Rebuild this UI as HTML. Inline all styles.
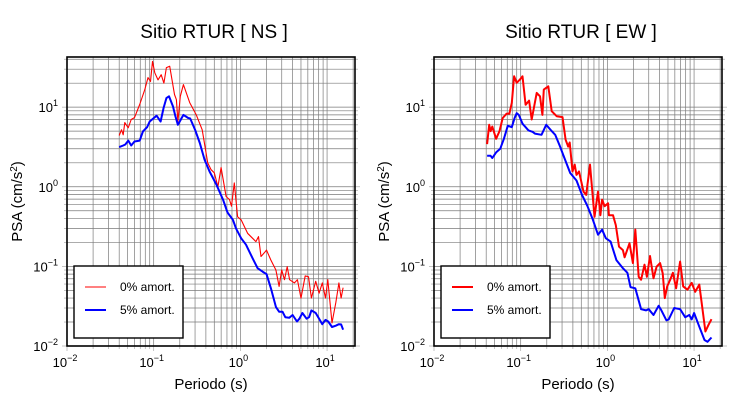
<!DOCTYPE html>
<html><head><meta charset="utf-8">
<style>
body{margin:0;background:#fff;}
svg{display:block;font-family:"Liberation Sans",sans-serif;}
</style></head>
<body>
<svg id="c" width="730" height="400" viewBox="0 0 730 400"></svg>
<script>
// ---- data (periods in s, PSA in cm/s^2) ----
const nsRedPeriods=[0.040,0.0425,0.0445,0.0464,0.0508,0.055,0.060,0.069,0.079,0.086,0.092,0.097,0.103,0.112,0.122,0.131,0.140,0.153,0.174,0.183,0.19,0.203,0.22,0.26,0.31,0.363,0.42,0.46,0.50,0.55,0.60,0.685,0.75,0.79,0.85,0.93,1.02,1.21,1.51,1.62,1.73,1.89,2.0,2.25,2.57,2.8,3.0,3.23,3.47,3.7,4.2,4.55,5.0,5.6,6.1,6.6,7.4,8.1,8.8,9.6,10.2,11.4,12.6,13.7,14.5,15.3];
const nsRedValues=[4.4,5.2,4.5,6.4,5.5,7.0,7.4,10.8,16.6,23.5,21,37.6,27,22,25.6,20,31.4,32.7,14.4,12.4,6.6,13.7,19.2,11.4,8.0,5.2,2.0,1.64,1.5,1.0,1.74,0.755,0.69,0.57,1.12,0.42,0.385,0.26,0.205,0.237,0.133,0.148,0.16,0.12,0.09,0.056,0.09,0.068,0.099,0.068,0.062,0.068,0.040,0.076,0.074,0.040,0.065,0.046,0.062,0.040,0.068,0.0195,0.035,0.062,0.040,0.054];
const nsBluePeriods=[0.040,0.0445,0.047,0.051,0.055,0.060,0.069,0.075,0.084,0.090,0.108,0.12,0.13,0.14,0.15,0.167,0.178,0.19,0.203,0.22,0.25,0.264,0.30,0.34,0.386,0.44,0.53,0.63,0.71,0.82,0.89,1.02,1.16,1.38,1.58,1.8,2.0,2.25,2.57,2.8,3.06,3.3,3.66,4.0,4.5,4.8,5.2,5.8,6.2,6.6,7.4,8.1,8.8,9.6,10.3,11.4,12.6,13.7,14.5,15.3];
const nsBlueValues=[3.15,3.3,3.4,3.8,3.3,3.7,3.8,4.95,5.6,6.6,7.8,6.6,9.8,13.0,13.7,10.2,7.7,6.0,6.8,8.0,7.3,7.2,5.2,3.55,2.2,1.56,1.06,0.69,0.475,0.385,0.30,0.226,0.187,0.127,0.095,0.086,0.08,0.053,0.031,0.027,0.027,0.023,0.0226,0.0245,0.0203,0.022,0.026,0.022,0.023,0.028,0.026,0.022,0.0188,0.0213,0.0203,0.0173,0.018,0.0188,0.0187,0.016];
const ewRedPeriods=[0.041,0.0433,0.045,0.047,0.052,0.057,0.062,0.069,0.074,0.079,0.084,0.090,0.098,0.105,0.114,0.125,0.134,0.153,0.167,0.178,0.185,0.208,0.228,0.26,0.304,0.33,0.353,0.368,0.396,0.42,0.44,0.47,0.53,0.57,0.63,0.71,0.78,0.83,0.87,0.93,1.02,1.04,1.16,1.25,1.36,1.51,1.58,1.8,1.97,2.1,2.3,2.45,2.68,2.86,3.1,3.4,3.7,4.06,4.35,4.6,4.9,5.3,5.7,6.2,6.9,7.5,8.4,9.4,10.3,11.5,13.5,14.7,15.9];
const ewRedValues=[3.44,6.0,5.0,5.7,4.0,5.0,7.3,8.3,8.3,11.3,24.4,20.2,22.2,24.4,10.7,12.1,7.0,15.1,13.7,8.0,16.6,18.3,8.9,7.7,7.5,3.9,3.2,3.6,1.56,1.9,1.41,1.56,0.87,0.79,1.9,0.42,0.87,0.44,0.69,0.57,0.62,0.44,0.44,0.33,0.177,0.16,0.13,0.195,0.11,0.29,0.074,0.068,0.105,0.074,0.135,0.071,0.099,0.11,0.082,0.040,0.056,0.068,0.083,0.053,0.115,0.056,0.051,0.062,0.048,0.059,0.0152,0.0185,0.0217];
const ewBluePeriods=[0.041,0.045,0.047,0.052,0.058,0.064,0.071,0.079,0.085,0.09,0.095,0.105,0.123,0.137,0.146,0.174,0.197,0.228,0.25,0.285,0.31,0.373,0.44,0.51,0.59,0.68,0.78,0.87,0.96,1.09,1.27,1.51,1.7,1.85,2.1,2.45,2.8,3.0,3.4,3.9,4.2,4.8,5.1,5.9,6.9,7.9,8.8,9.4,10.0,11.5,13.2,14.3,15.9];
const ewBlueValues=[2.45,2.45,2.3,2.7,3.0,4.0,5.85,5.6,7.3,8.4,8.0,6.2,5.1,4.9,4.65,4.5,6.0,5.0,4.5,3.2,2.5,1.49,1.2,0.79,0.57,0.385,0.25,0.29,0.226,0.205,0.12,0.095,0.083,0.055,0.053,0.029,0.028,0.029,0.0245,0.032,0.028,0.021,0.0216,0.030,0.029,0.023,0.0245,0.0216,0.026,0.0175,0.0119,0.0113,0.0128];
const xTickExps=[-2,-1,0,1];
const yTickExps=[-2,-1,0,1];
const legendLabels=["0% amort.","5% amort."];

const NS="http://www.w3.org/2000/svg";
const svg=document.getElementById('c');
function mk(tag,attrs,parent){const e=document.createElementNS(NS,tag);for(const k in attrs)e.setAttribute(k,attrs[k]);(parent||svg).appendChild(e);return e;}

const XMIN=-2, XMAX=Math.log10(21), YMIN=-2, YMAX=1.63;
function drawPanel(x0,title,rP,rV,bP,bV,redW,key){
  const x1=x0+288, y0=57, y1=346;
  const sx=p=>x0+(Math.log10(p)-XMIN)/(XMAX-XMIN)*(x1-x0);
  const sy=v=>y1-(Math.log10(v)-YMIN)/(YMAX-YMIN)*(y1-y0);
  const g=mk('g',{});
  
  
  const grid=mk('g',{stroke:'#7a7a7a','stroke-width':'0.7'},g);
  
  
  for(let d=-2;d<=1;d++)for(let k=1;k<10;k++){
    const p=k*Math.pow(10,d); if(Math.log10(p)>XMAX)continue;
    const x=sx(p); mk('line',{x1:x,x2:x,y1:y0,y2:y1},grid);
    mk('line',{x1:x,x2:x,y1:y1,y2:y1+(k==1?5:3),stroke:'#aaa'},grid);
  }
  for(let d=-2;d<=1;d++)for(let k=1;k<10;k++){
    const v=k*Math.pow(10,d); if(Math.log10(v)>YMAX)continue;
    const y=sy(v); mk('line',{x1:x0,x2:x1,y1:y,y2:y},grid);
    mk('line',{x1:x0-(k==1?5:3),x2:x0,y1:y,y2:y,stroke:'#aaa'},grid);
    mk('line',{x1:x1,x2:x1+(k==1?5:3),y1:y,y2:y,stroke:'#aaa'},grid);
  }
  const pts=(P,V)=>P.map((p,i)=>sx(p).toFixed(1)+','+sy(V[i]).toFixed(1)).join(' ');
  const r=mk('polyline',{points:pts(rP,rV),fill:'none',stroke:'#ff0000','stroke-width':redW,'stroke-linejoin':'round'},g);
  
  
  const b=mk('polyline',{points:pts(bP,bV),fill:'none',stroke:'#0000ff','stroke-width':'2','stroke-linejoin':'round'},g);
  
  
  const fr=mk('rect',{x:x0,y:y0,width:x1-x0,height:y1-y0,fill:'none',stroke:'#000','stroke-width':'1.6'},g);
  
  
  const lg=mk('g',{},g);
  
  
  mk('rect',{x:x0+7,y:266,width:109,height:72,fill:'#fff',stroke:'#000','stroke-width':'1.4'},lg);
  const cols=['#ff0000','#0000ff'], ws=[redW,2];
  legendLabels.forEach((t,i)=>{
    const y=287+i*23;
    mk('line',{x1:x0+18,x2:x0+39,y1:y,y2:y,stroke:cols[i],'stroke-width':ws[i]},lg);
    const tx=mk('text',{x:x0+53,y:y+4,'font-size':'12'},lg); tx.textContent=t;
    
    
  });
  xTickExps.forEach(e=>{
    const t=mk('text',{x:sx(Math.pow(10,e))-2,y:367,'font-size':'13','text-anchor':'middle'},g);
    t.innerHTML='10<tspan dy="-6" font-size="9">'+(e<0?'\u2212'+(-e):e)+'</tspan>';
    
    
  });
  yTickExps.forEach(e=>{
    const t=mk('text',{x:x0-9,y:sy(Math.pow(10,e))+5,'font-size':'13','text-anchor':'end'},g);
    t.innerHTML='10<tspan dy="-6" font-size="9">'+(e<0?'\u2212'+(-e):e)+'</tspan>';
    
    
  });
  const xt=mk('text',{x:(x0+x1)/2,y:389,'font-size':'15','text-anchor':'middle'},g);
  xt.textContent='Periodo (s)';
  
  
  const yt=mk('text',{x:0,y:0,'font-size':'15','text-anchor':'middle',transform:'translate('+(x0-45)+','+((y0+y1)/2)+') rotate(-90)'},g);
  yt.innerHTML='PSA (cm/s<tspan dy="-5" font-size="10">2</tspan><tspan dy="5">)</tspan>';
  
  
  const tt=mk('text',{x:(x0+x1)/2+3,y:38,'font-size':'19','text-anchor':'middle'},g);
  tt.textContent=title;
  
  
}
drawPanel(67,'Sitio RTUR [ NS ]',nsRedPeriods,nsRedValues,nsBluePeriods,nsBlueValues,'1.1','ns');
drawPanel(434,'Sitio RTUR [ EW ]',ewRedPeriods,ewRedValues,ewBluePeriods,ewBlueValues,'2','ew');
</script>
</body></html>
